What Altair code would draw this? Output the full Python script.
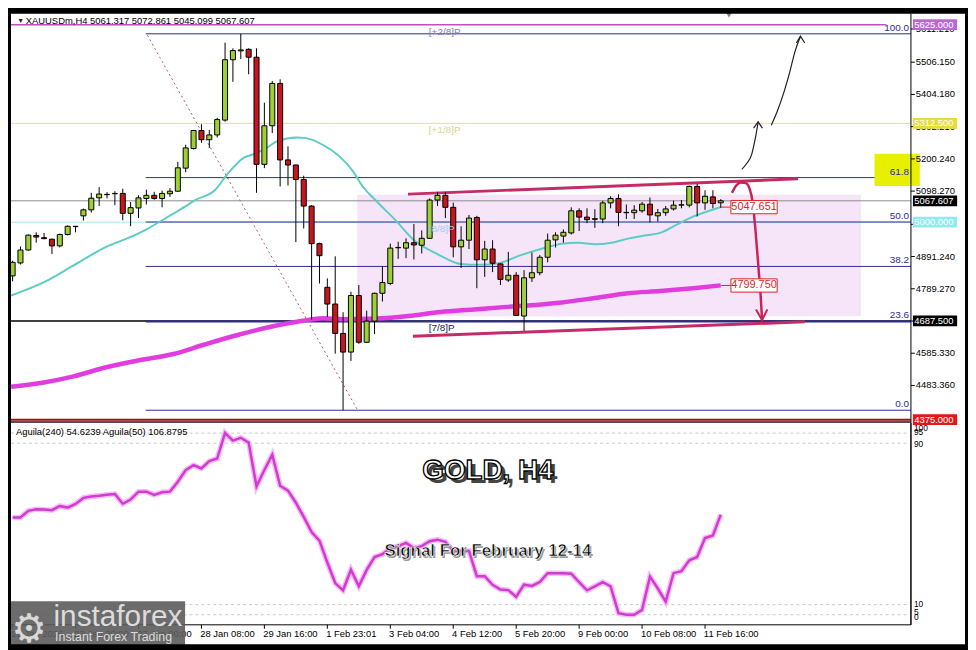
import altair as alt
import pandas as pd

W, H = 968, 642
FONT = "Liberation Sans"

# ---------------- data ----------------
candle_idx = list(range(91))
candle_open = [4830, 4871, 4912, 4958, 4951, 4946, 4925, 4961, 4986, 5020,
               5039, 5077, 5087, 5090, 5091, 5028, 5045, 5075, 5085, 5075,
               5090, 5098, 5171, 5233, 5290, 5261, 5276, 5323, 5514, 5542,
               5547, 5522, 5183, 5305, 5439, 5197, 5181, 5135, 5051, 4932,
               4794, 4741, 4648, 4589, 4768, 4620, 4687, 4775, 4806, 4919,
               4918, 4935, 4927, 4949, 5070, 5085, 5047, 4922, 4943, 5015,
               4881, 4915, 4868, 4817, 4832, 4703, 4824, 4840, 4889, 4944,
               4956, 4966, 5036, 5016, 5009, 5010, 5061, 5075, 5031, 5030,
               5036, 5057, 5020, 5030, 5042, 5054, 5054, 5113, 5061, 5080,
               5061.3]
candle_high = [4878, 4923, 4961, 4968, 4966, 4948, 4964, 4990, 4988, 5043,
               5093, 5111, 5095, 5098, 5106, 5064, 5085, 5103, 5096, 5100,
               5108, 5191, 5245, 5292, 5310, 5292, 5330, 5568, 5550, 5596,
               5550, 5550, 5378, 5447, 5452, 5240, 5182, 5147, 5054, 4935,
               4822, 4892, 4715, 4780, 4801, 4720, 4777, 4861, 4932, 4938,
               4949, 4994, 4974, 5075, 5096, 5096, 5062, 4987, 5023, 5020,
               4941, 4943, 4869, 4906, 4842, 4848, 4904, 4896, 4964, 4968,
               4977, 5047, 5044, 5044, 5041, 5068, 5082, 5088, 5056, 5054,
               5064, 5078, 5042, 5051, 5068, 5070, 5116, 5121, 5101, 5101,
               5072.9]
candle_low = [4813, 4866, 4910, 4935, 4946, 4899, 4920, 4958, 4968, 5005,
              5030, 5051, 5075, 5054, 5006, 4987, 5013, 5056, 5071, 5047,
              5080, 5096, 5158, 5230, 5251, 5235, 5268, 5318, 5444, 5516,
              5468, 5093, 5171, 5282, 5113, 5116, 4937, 4980, 4692, 4806,
              4700, 4584, 4405, 4561, 4615, 4618, 4646, 4749, 4801, 4884,
              4886, 4882, 4901, 4947, 5051, 5013, 4889, 4855, 4915, 4791,
              4827, 4842, 4801, 4811, 4703, 4656, 4811, 4832, 4873, 4920,
              4935, 4961, 4972, 4997, 4982, 4997, 5044, 4987, 5010, 5010,
              5030, 4999, 5002, 5020, 5037, 5044, 5047, 5018, 5039, 5044,
              5045.1]
candle_close = [4873, 4912, 4959, 4953, 4948, 4925, 4961, 4987, 4987, 5039,
                5076, 5089, 5088, 5091, 5028, 5046, 5077, 5085, 5075, 5091,
                5098, 5172, 5235, 5290, 5261, 5276, 5325, 5514, 5543, 5545,
                5522, 5183, 5305, 5439, 5197, 5181, 5135, 5051, 4932, 4894,
                4741, 4648, 4589, 4768, 4620, 4687, 4775, 4809, 4918, 4920,
                4935, 4928, 4949, 5070, 5085, 5047, 4922, 4943, 5013, 4881,
                4915, 4870, 4819, 4832, 4705, 4824, 4840, 4889, 4943, 4959,
                4968, 5036, 5016, 5008, 5011, 5061, 5075, 5031, 5030, 5038,
                5057, 5023, 5030, 5042, 5054, 5055, 5113, 5061, 5082, 5059,
                5067.6]

ema_fast_idx = [-0.2, 4, 7.75, 11.9, 14.4, 16.9, 19.8, 21.9, 23.2, 25.7, 27.3, 29.4, 30.7,
                32.3, 33.6, 36.1, 37.3, 39.4, 41.5, 43.2, 44.4, 46.1, 48.6, 51.1, 54, 56.9,
                59.4, 61.9, 64.4, 67.8, 69.8, 71.9, 74, 76.1, 78.2, 80.3, 82.3, 84.4, 86.5,
                88.2, 90]
ema_fast_val = [4768, 4810, 4863, 4922, 4947, 4976, 5018, 5049, 5070, 5101, 5152, 5204, 5216,
                5235, 5256, 5268, 5266, 5245, 5209, 5163, 5116, 5070, 5008, 4941, 4899, 4868,
                4865, 4871, 4894, 4920, 4932, 4935, 4930, 4935, 4948, 4958, 4966, 4992, 5018,
                5033, 5048]
ema_slow_idx = [-0.2, 3.6, 7.75, 11.9, 16.1, 20.3, 24.4, 28.6, 32.8, 36.9, 39.4, 41.9, 46.1,
                50.3, 54.4, 58.6, 62.8, 66.9, 69.8, 74, 78.2, 82.3, 86.5, 90]
ema_slow_val = [4479, 4491, 4512, 4541, 4563, 4582, 4613, 4643, 4669, 4688, 4696, 4693, 4695,
                4703, 4716, 4724, 4732, 4739, 4746, 4760, 4775, 4782, 4791, 4800]

aguila = [53.2, 53.2, 56.5, 57.3, 57.1, 56.8, 58.9, 58.1, 59.9, 62.9,
          63.6, 64.0, 64.5, 64.8, 60.0, 62.1, 66.0, 66.0, 64.4, 65.7,
          66.0, 70.9, 76.7, 79.1, 77.5, 81.1, 82.4, 95.1, 91.3, 92.7,
          90.3, 68.6, 76.7, 84.3, 68.9, 66.5, 60.5, 53.5, 46.0, 41.7,
          30.9, 20.7, 17.1, 27.3, 19.1, 27.2, 33.6, 35.0, 37.9, 39.0,
          40.6, 38.0, 39.0, 41.4, 42.2, 41.1, 36.6, 36.6, 36.6, 24.1,
          24.1, 19.8, 17.5, 17.2, 13.9, 19.9, 19.3, 21.2, 25.6, 25.6,
          25.6, 25.3, 21.2, 17.1, 19.1, 21.2, 19.1, 5.8, 5.0, 5.0,
          7.4, 23.9, 18.0, 11.5, 25.6, 26.6, 32.0, 33.6, 43.0, 44.3,
          54.6]

time_tick_idx = [0, 8, 16, 24, 32, 40, 48, 56, 64, 72, 80, 88]
time_tick_labels = ["22 Jan 2026", "23 Jan 20:00", "27 Jan 00:00", "28 Jan 08:00",
                    "29 Jan 16:00", "1 Feb 23:01", "3 Feb 04:00", "4 Feb 12:00",
                    "5 Feb 20:00", "9 Feb 00:00", "10 Feb 08:00", "11 Feb 16:00"]

price_ticks = [4483.36, 4585.33, 4687.30, 4789.27, 4891.24, 4993.21, 5098.27,
               5200.24, 5302.21, 5404.18, 5506.15, 5611.21]

fib_low, fib_high = 4405.0, 5596.0
fib_ratios = [0.0, 23.6, 38.2, 50.0, 61.8, 100.0]

level_prices = [5625.0, 5312.5, 5067.607, 5000.0, 4687.5, 4375.0]
level_colors = ["#b868d8", "#e8dc3c", "#000000", "#8eecf0", "#000000", "#e01818"]
level_line_colors = ["#c04cc8", "#efe27a", "#8c8c8c", "#a8e4f0", "#000000", "#a01010"]

murrey_labels = ["[+2/8]P", "[+1/8]P", "[8/8]P", "[7/8]P"]
murrey_prices = [5625.0, 5312.5, 5000.0, 4687.5]
murrey_colors = ["#8c7cae", "#ddd488", "#96cdee", "#1c1c48"]

ema_labels = ["5047.651", "4799.750"]
ema_label_prices = [5047.651, 4799.75]

agu_levels = [95, 90, 10, 5]
agu_tick_labels = ["100", "95", "90", "10", "5", "0"]
agu_tick_pos = [97.6, 95.6, 89.8, 10.2, 6.3, 3.9]

# drawn annotations (index, price)
chan_up_x, chan_up_y = [50.25, 99.83], [5088.8, 5137.1]
chan_lo_x, chan_lo_y = [50.88, 100.67], [4639.4, 4684.6]
fib_diag_x, fib_diag_y = [17.13, 43.79], [5591.8, 4407.8]
red_arrow_x = [91.42, 91.92, 92.54, 93.17, 93.67, 94.04, 94.42, 94.79, 95.10, 95.25]
red_arrow_y = [5092.8, 5114.5, 5125.4, 5123.8, 5105.2, 5065.0, 4972.0, 4857.2, 4755.0, 4689.9]
red_head_x, red_head_y = [94.48, 95.25, 95.92], [4724.0, 4689.9, 4724.0]
blk1_x = [92.67, 93.29, 93.92, 94.35, 94.75]
blk1_y = [5167.2, 5185.8, 5213.7, 5260.2, 5316.0]
blk1_head_x, blk1_head_y = [94.17, 94.75, 95.29], [5297.4, 5317.5, 5297.4]
blk2_x = [96.42, 97.17, 98.04, 98.79, 99.42, 100.13]
blk2_y = [5306.7, 5350.1, 5412.1, 5477.2, 5539.1, 5587.2]
blk2_head_x, blk2_head_y = [99.6, 100.13, 100.67], [5567.0, 5588.7, 5567.0]

# ---------------- scales ----------------
X_DOMAIN = [-0.584, 121.42]
P_DOMAIN = [3654.7, 5669.3]
V_DOMAIN = [-11.165, 304.37]
XL, XR = -0.209, 114.17        # plot area left/right
xs = alt.Scale(domain=X_DOMAIN, nice=False, zero=False)
ps = alt.Scale(domain=P_DOMAIN, nice=False, zero=False)
vs = alt.Scale(domain=V_DOMAIN, nice=False, zero=False)


def X(f):
    return alt.X(f"{f}:Q", scale=xs, axis=None)


def YP(f):
    return alt.Y(f"{f}:Q", scale=ps, axis=None)


def YV(f):
    return alt.Y(f"{f}:Q", scale=vs, axis=None)


def poly(xv, yv, yfun, **kw):
    df = pd.DataFrame({"x": xv, "y": yv, "o": list(range(len(xv)))})
    return alt.Chart(df).mark_line(**kw).encode(x=X("x"), y=yfun("y"), order="o:Q")


def hrules(df, yfun, **kw):
    return alt.Chart(df).mark_rule(**kw).encode(
        x=X("x"), x2=alt.X2("x2"), y=yfun("y"),
        color=alt.Color("c:N", scale=None),
        strokeWidth=alt.StrokeWidth("w:Q", scale=None))


def rects(df, yfun, **kw):
    return alt.Chart(df).mark_rect(**kw).encode(
        x=X("x"), x2=alt.X2("x2"), y=yfun("y"), y2=alt.Y2("y2"),
        fill=alt.Fill("c:N", scale=None))


def texts(df, yfun, **kw):
    kw.setdefault("font", FONT)
    return alt.Chart(df).mark_text(**kw).encode(x=X("x"), y=yfun("y"), text="t:N")


P = []   # price-panel layers
V = []   # indicator-panel layers

# pink zone
P.append(rects(pd.DataFrame({"x": [43.8], "x2": [107.8], "y": [5086.6], "y2": [4702.3],
                             "c": ["#f6e4f8"]}), YP))

# full-width level lines
lv = pd.DataFrame({
    "x": [XL, XL, XL, XL, XL, XL],
    "x2": [111.04, XR, XR, XR, XR, XR],
    "y": level_prices,
    "c": level_line_colors,
    "w": [1.5, 1, 1, 1, 1.5, 2],
})
P.append(hrules(lv, YP))

# fibonacci lines
fib_prices = [fib_low + (fib_high - fib_low) * r / 100 for r in fib_ratios]
fb = pd.DataFrame({"x": [16.92] * 6, "x2": [XR] * 6, "y": fib_prices,
                   "c": ["#2c2c98"] * 6, "w": [1, 2, 1, 1, 1, 1]})
P.append(hrules(fb, YP))
P.append(poly(fib_diag_x, fib_diag_y, YP, color="#b05a5a", strokeWidth=1, strokeDash=[2, 3]))

# moving averages
P.append(poly(ema_slow_idx, ema_slow_val, YP, color="#e03ce0", strokeWidth=4.5, interpolate="monotone"))
P.append(poly(ema_fast_idx, ema_fast_val, YP, color="#5ccdc6", strokeWidth=2, interpolate="monotone"))

# channel lines
P.append(poly(chan_up_x, chan_up_y, YP, color="#c42c68", strokeWidth=3))
P.append(poly(chan_lo_x, chan_lo_y, YP, color="#c42c68", strokeWidth=3))

# candles
cd = pd.DataFrame({"i": candle_idx, "o": candle_open, "h": candle_high,
                   "l": candle_low, "c": candle_close})
cd["x0"] = cd["i"] - 0.32
cd["x1"] = cd["i"] + 0.32
cd["fill"] = ["#9cd034" if c >= o else "#c8161e" for o, c in zip(cd["o"], cd["c"])]
P.append(alt.Chart(cd).mark_rule(color="black", strokeWidth=1).encode(
    x=X("i"), y=YP("l"), y2=alt.Y2("h")))
P.append(alt.Chart(cd).mark_rect(stroke="black", strokeWidth=1).encode(
    x=X("x0"), x2=alt.X2("x1"), y=YP("o"), y2=alt.Y2("c"),
    fill=alt.Fill("fill:N", scale=None)))

# arrows
P.append(poly(red_arrow_x, red_arrow_y, YP, color="#c8245a", strokeWidth=2.5, interpolate="monotone"))
P.append(poly(red_head_x, red_head_y, YP, color="#c8245a", strokeWidth=2))
P.append(poly(blk1_x, blk1_y, YP, color="#222222", strokeWidth=1.2, interpolate="monotone"))
P.append(poly(blk1_head_x, blk1_head_y, YP, color="#222222", strokeWidth=1.2))
P.append(poly(blk2_x, blk2_y, YP, color="#222222", strokeWidth=1.2, interpolate="monotone"))
P.append(poly(blk2_head_x, blk2_head_y, YP, color="#222222", strokeWidth=1.2))

# ema value labels
P.append(hrules(pd.DataFrame({"x": [90.04, 90.04], "x2": [91.29, 91.29], "y": ema_label_prices,
                              "c": ["#e02424"] * 2, "w": [1, 1]}), YP))
elb = pd.DataFrame({"x": [91.29] * 2, "x2": [97.17] * 2,
                    "y": [p + 21 for p in ema_label_prices],
                    "y2": [p - 21 for p in ema_label_prices], "c": ["white"] * 2})
P.append(rects(elb, YP, stroke="#e02424", strokeWidth=1))
P.append(texts(pd.DataFrame({"x": [94.23] * 2, "y": ema_label_prices, "t": ema_labels}), YP,
               fontSize=11, color="#e02424", align="center", baseline="middle"))

# murrey labels
P.append(alt.Chart(pd.DataFrame({"x": [52.9] * 4, "y": murrey_prices, "t": murrey_labels,
                                 "c": murrey_colors})).mark_text(
    font=FONT, fontSize=10, align="left", baseline="top", dy=2).encode(
    x=X("x"), y=YP("y"), text="t:N", color=alt.Color("c:N", scale=None)))

# fib labels
P.append(texts(pd.DataFrame({"x": [113.92] * 6, "y": fib_prices,
                             "t": [f"{r:.1f}" for r in fib_ratios]}), YP,
               fontSize=10, color="#2c2c98", align="right", baseline="bottom", dy=-1))

# yellow highlight box at 61.8
P.append(rects(pd.DataFrame({"x": [109.54], "x2": [115.29], "y": [5216.8], "y2": [5114.5],
                             "c": ["#e6f000"]}), YP))
P.append(texts(pd.DataFrame({"x": [113.92], "y": [fib_prices[4]], "t": ["61.8"]}), YP,
               fontSize=10, color="#2c2c98", align="right", baseline="bottom", dy=-1))

# right price axis
P.append(poly([XR, XR], [5660.0, 3726.0], YP, color="black", strokeWidth=1))
tk = pd.DataFrame({"x": [XR] * len(price_ticks), "x2": [114.67] * len(price_ticks),
                   "y": price_ticks, "c": ["black"] * len(price_ticks), "w": [1] * len(price_ticks)})
P.append(hrules(tk, YP))
P.append(texts(pd.DataFrame({"x": [114.79] * len(price_ticks), "y": price_ticks,
                             "t": [f"{v:.3f}" for v in price_ticks]}), YP,
               fontSize=9.5, color="black", align="left", baseline="middle"))
lbx = pd.DataFrame({"x": [114.42] * 6, "x2": [120.04] * 6,
                    "y": [p + 17 for p in level_prices], "y2": [p - 17 for p in level_prices],
                    "c": level_colors})
P.append(rects(lbx, YP))
P.append(texts(pd.DataFrame({"x": [114.6] * 6, "y": level_prices,
                             "t": [f"{v:.3f}" for v in level_prices]}), YP,
               fontSize=9.5, color="white", align="left", baseline="middle"))

# header
P.append(texts(pd.DataFrame({"x": [0.6], "y": [5635.2], "t": ["▼"]}), YP,
               fontSize=7, color="#222", align="left", baseline="middle"))
P.append(texts(pd.DataFrame({"x": [1.67], "y": [5635.2],
                             "t": ["XAUUSDm,H4  5061.317 5072.861 5045.099 5067.607"]}), YP,
               fontSize=9.5, color="black", align="left", baseline="middle"))
P.append(alt.Chart(pd.DataFrame({"x": [91.04], "y": [5656.0]})).mark_point(
    shape="triangle-down", size=40, filled=True, color="#808080", opacity=1).encode(
    x=X("x"), y=YP("y")))

# panel separators
sep = pd.DataFrame({"x": [XL], "x2": [XR], "y": [4367.5], "c": ["#1a1a1a"], "w": [1.5]})
P.append(hrules(sep, YP))

# ---------------- indicator panel ----------------
ag = pd.DataFrame({"x": [XL] * 4, "x2": [XR] * 4, "y": agu_levels, "c": ["#c8c8c8"] * 4, "w": [1] * 4})
V.append(hrules(ag, YV, strokeDash=[3, 3]))
V.append(poly(candle_idx, aguila, YV, color="#f5bdf5", strokeWidth=5.5))
V.append(poly(candle_idx, aguila, YV, color="#d23ad2", strokeWidth=2.5))
V.append(texts(pd.DataFrame({"x": [0.42], "y": [95.6],
                             "t": ["Aguila(240) 54.6239  Aguila(50) 106.8795"]}), YV,
               fontSize=9.5, color="black", align="left", baseline="middle"))
V.append(texts(pd.DataFrame({"x": [114.55] * 6, "y": agu_tick_pos, "t": agu_tick_labels}), YV,
               fontSize=8.5, color="black", align="left", baseline="middle"))

# titles
V.append(texts(pd.DataFrame({"x": [60.6], "y": [75.6], "t": ["GOLD, H4"]}), YV,
               fontSize=28, fontWeight="bold", color="#444444", align="center",
               baseline="middle", dx=2.5, dy=2.5))
V.append(texts(pd.DataFrame({"x": [60.4], "y": [76.2], "t": ["GOLD, H4"]}), YV,
               fontSize=28, fontWeight="bold", color="white", stroke="black", strokeWidth=1.3,
               align="center", baseline="middle"))
V.append(texts(pd.DataFrame({"x": [60.4], "y": [36.4], "t": ["Signal For February 12-14"]}), YV,
               fontSize=17, fontWeight="bold", color="#9a9a9a", align="center",
               baseline="middle", dx=1.5, dy=1.5))
V.append(texts(pd.DataFrame({"x": [60.4], "y": [36.4], "t": ["Signal For February 12-14"]}), YV,
               fontSize=17, fontWeight="bold", color="black", stroke="white", strokeWidth=0.6,
               align="center", baseline="middle"))

# bottom axis
V.append(hrules(pd.DataFrame({"x": [XL], "x2": [XR], "y": [0.0], "c": ["black"], "w": [1]}), YV))
V.append(poly([XR, XR], [0.0, 100.0], YV, color="black", strokeWidth=1))
tt = pd.DataFrame({"x": time_tick_idx, "y": [0.0] * 12, "y2": [-1.94] * 12})
V.append(alt.Chart(tt).mark_rule(color="black", strokeWidth=1).encode(
    x=X("x"), y=YV("y"), y2=alt.Y2("y2")))
V.append(texts(pd.DataFrame({"x": [i - 0.15 for i in time_tick_idx], "y": [-4.4] * 12,
                             "t": time_tick_labels}), YV,
               fontSize=9.5, color="black", align="left", baseline="middle"))

# watermark logo
V.append(rects(pd.DataFrame({"x": [-0.584], "x2": [21.92], "y": [11.65], "y2": [-11.165],
                             "c": ["#5c5c5c"]}), YV, opacity=0.9))
V.append(texts(pd.DataFrame({"x": [2.1], "y": [-2.4], "t": ["⚙"]}), YV,
               font="DejaVu Sans", fontSize=40, color="#d8d8d8", align="center", baseline="middle"))
V.append(texts(pd.DataFrame({"x": [5.2], "y": [-0.4], "t": ["instaforex"]}), YV,
               fontSize=30, color="#dcdcdc", align="left", baseline="alphabetic"))
V.append(texts(pd.DataFrame({"x": [5.4], "y": [-8.2], "t": ["Instant Forex Trading"]}), YV,
               fontSize=12.5, color="#dcdcdc", align="left", baseline="alphabetic"))

# outer frame
V.append(alt.Chart(pd.DataFrame({"x": [X_DOMAIN[0]], "x2": [X_DOMAIN[1]],
                                 "y": [V_DOMAIN[0]], "y2": [V_DOMAIN[1]]})).mark_rect(
    filled=False, stroke="black", strokeWidth=6).encode(
    x=X("x"), x2=alt.X2("x2"), y=YV("y"), y2=alt.Y2("y2")))

chart = alt.layer(alt.layer(*P), alt.layer(*V)).resolve_scale(y="independent").properties(
    width=W, height=H, autosize=alt.AutoSizeParams(type="none"), padding=0,
    background="white").configure_view(strokeWidth=0)

chart.save("out.html", embed_options={"renderer": "svg", "actions": False})
